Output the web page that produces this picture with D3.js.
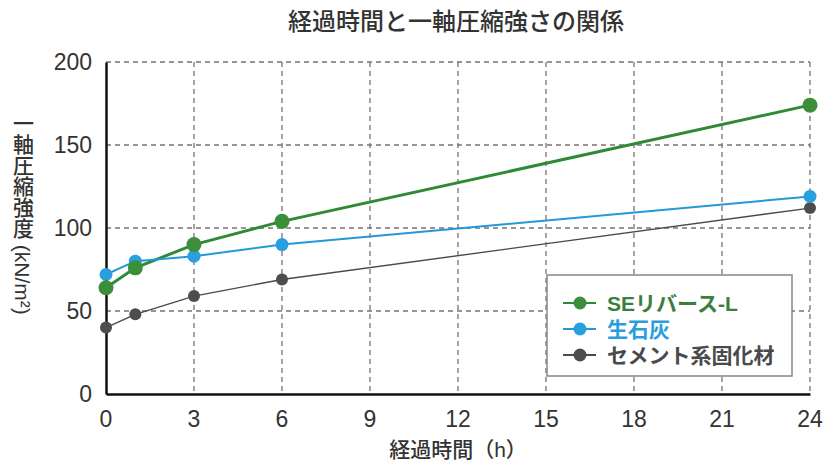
<!DOCTYPE html>
<html>
<head>
<meta charset="utf-8">
<script src="https://cdn.jsdelivr.net/npm/d3@7"></script>
<style>
  body { margin: 0; background: #fff; }
  text { font-family: "Liberation Sans", "Noto Sans CJK JP", sans-serif; }
</style>
</head>
<body>
<div id="chart"></div>
<script>
const hours = [0, 1, 3, 6, 24];
const seRiverL = [64, 76, 90, 104, 174];
const quicklime = [72, 80, 83, 90, 119];
const cementBased = [40, 48, 59, 69, 112];
const xTicks = [0, 3, 6, 9, 12, 15, 18, 21, 24];
const yTicks = [0, 50, 100, 150, 200];
const seriesNames = ['SEリバース-L', '生石灰', 'セメント系固化材'];

const series = [
  { name: seriesNames[0], values: seRiverL, color: '#2f8a36', fill: '#3b8f3b', text: '#3a7f3c', r: 7.5, w: 3 },
  { name: seriesNames[1], values: quicklime, color: '#2399d8', fill: '#2a9fe0', text: '#2a9ddc', r: 6.5, w: 2 },
  { name: seriesNames[2], values: cementBased, color: '#4a4a4a', fill: '#4d4d4f', text: '#4a4a4c', r: 6, w: 1.4 }
];

const width = 824, height = 466;
const margin = { top: 62, right: 14, bottom: 72, left: 106 };
const innerWidth = width - margin.left - margin.right;
const innerHeight = height - margin.top - margin.bottom;

const svg = d3.select('#chart').append('svg')
  .attr('width', width).attr('height', height);

svg.append('text')
  .attr('x', 456).attr('y', 30)
  .attr('text-anchor', 'middle')
  .attr('font-size', 24).attr('font-weight', 500).attr('fill', '#333')
  .text('経過時間と一軸圧縮強さの関係');

const g = svg.append('g').attr('transform', `translate(${margin.left},${margin.top})`);

const x = d3.scaleLinear().domain([0, 24]).range([0, innerWidth]);
const y = d3.scaleLinear().domain([0, 200]).range([innerHeight, 0]);

// grid
g.append('g').selectAll('line').data(xTicks.filter(d => d > 0)).join('line')
  .attr('x1', d => x(d)).attr('x2', d => x(d))
  .attr('y1', 0).attr('y2', innerHeight)
  .attr('stroke', '#7d7070').attr('stroke-width', 1.3).attr('stroke-dasharray', '5,4');
g.append('g').selectAll('line').data(yTicks.filter(d => d > 0)).join('line')
  .attr('x1', 0).attr('x2', innerWidth)
  .attr('y1', d => y(d)).attr('y2', d => y(d))
  .attr('stroke', '#7d7070').attr('stroke-width', 1.3).attr('stroke-dasharray', '5,4');

// axes (lines from d3 axis, labels placed with the same scales)
const xAxis = g.append('g')
  .attr('transform', `translate(0,${innerHeight})`)
  .call(d3.axisBottom(x).tickValues(xTicks).tickSize(0).tickFormat(''));
const yAxis = g.append('g')
  .call(d3.axisLeft(y).tickValues(yTicks).tickSize(0).tickFormat(''));
[xAxis, yAxis].forEach(a => {
  a.select('.domain').attr('stroke', '#111').attr('stroke-width', 2.5);
});

g.append('g').selectAll('text').data(xTicks).join('text')
  .attr('x', d => x(d)).attr('y', innerHeight + 33)
  .attr('text-anchor', 'middle')
  .attr('font-size', 23).attr('fill', '#333')
  .text(d => d);
g.append('g').selectAll('text').data(yTicks).join('text')
  .attr('x', -14).attr('y', d => y(d) + 8)
  .attr('text-anchor', 'end')
  .attr('font-size', 23).attr('fill', '#333')
  .text(d => d);

// lines
const line = d3.line().x((d, i) => x(hours[i])).y(d => y(d));
for (const s of series) {
  g.append('path')
    .datum(s.values)
    .attr('fill', 'none')
    .attr('stroke', s.color)
    .attr('stroke-width', s.w)
    .attr('d', line);
}
for (const s of series.slice().reverse()) {
  g.append('g').selectAll('circle').data(s.values).join('circle')
    .attr('cx', (d, i) => x(hours[i]))
    .attr('cy', d => y(d))
    .attr('r', s.r)
    .attr('fill', s.fill);
}

// axis titles
svg.append('text')
  .attr('x', 458).attr('y', 457)
  .attr('text-anchor', 'middle')
  .attr('font-size', 21).attr('font-weight', 500).attr('fill', '#333')
  .text('経過時間（h）');

svg.append('text')
  .attr('x', 22).attr('y', 113)
  .attr('font-size', 21).attr('font-weight', 500).attr('fill', '#333')
  .style('writing-mode', 'vertical-rl')
  .text('一軸圧縮強度 (kN/m²)');

// legend
const lg = svg.append('g').attr('transform', 'translate(547,275)');
lg.append('rect')
  .attr('width', 245).attr('height', 101)
  .attr('fill', '#fff').attr('stroke', '#8a8580').attr('stroke-width', 1.5);
series.forEach((s, i) => {
  const ly = 28 + i * 26;
  lg.append('line').attr('x1', 16).attr('x2', 49).attr('y1', ly).attr('y2', ly)
    .attr('stroke', s.color).attr('stroke-width', 2);
  lg.append('circle').attr('cx', 33).attr('cy', ly).attr('r', 6.5).attr('fill', s.fill);
  lg.append('text').attr('x', 60).attr('y', ly + 8)
    .attr('font-size', 21).attr('font-weight', 'bold').attr('fill', s.text)
    .text(s.name);
});
</script>
</body>
</html>
